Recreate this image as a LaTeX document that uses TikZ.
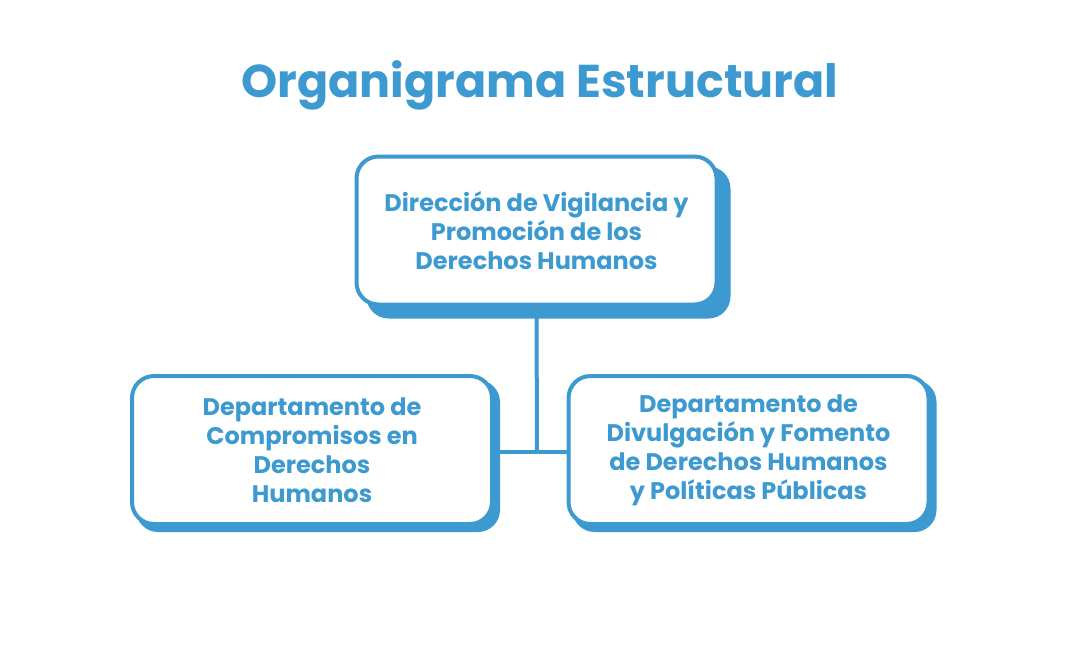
\documentclass[tikz,border=0pt]{standalone}
\usepackage{fontspec}
\setmainfont{Poppins}
\definecolor{cblue}{HTML}{3D9AD0}
\begin{document}
\begin{tikzpicture}[x=1pt,y=-1pt,
  boxs/.style={draw=cblue,line width=4pt,fill=white,rounded corners=22pt,minimum width=360pt,minimum height=148pt,align=center,text=cblue,font=\bfseries\fontsize{24}{29}\selectfont},
  shad/.style={fill=cblue,rounded corners=22pt,minimum width=364pt,minimum height=152pt}]
\useasboundingbox (0,0) rectangle (1079,645);
\node[text=cblue,font=\bfseries\fontsize{46}{52}\selectfont] (title) at (540,85) {Organigrama Estructural};
\node[shad] at (548.5,242.5) {};
\node[shad] at (318,456) {};
\node[shad] at (754.5,456) {};
\node[boxs] (top) at (536.5,230.5) {Dirección de Vigilancia y\\Promoción de los\\Derechos Humanos};
\node[boxs] (left) at (312,450) {Departamento de\\Compromisos en\\Derechos\\Humanos};
\node[boxs] (right) at (748.5,450) {Departamento de\\Divulgación y Fomento\\de Derechos Humanos\\y Políticas Públicas};
\coordinate (j) at (537,452);
\draw[cblue,line width=4pt] (top.south) -- (j);
\draw[cblue,line width=4pt] (left.east |- j) -- (right.west |- j);
\end{tikzpicture}
\end{document}
